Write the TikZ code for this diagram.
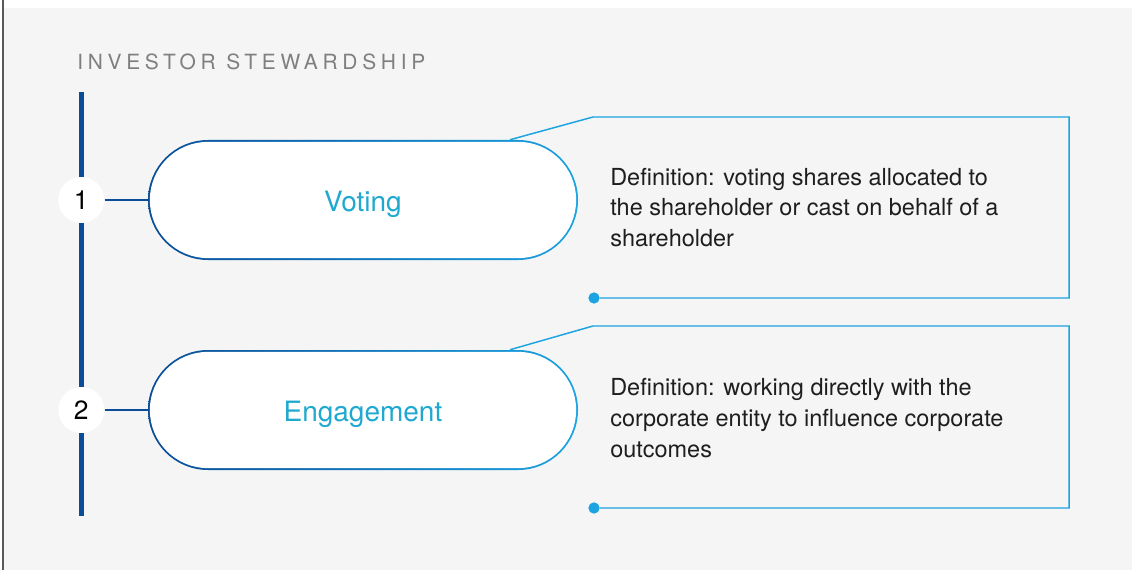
\documentclass[tikz,border=0pt]{standalone}
\usepackage{fontspec}
\setmainfont{TeX Gyre Heros}
\usetikzlibrary{shapes.misc}
\definecolor{bggray}{HTML}{F5F5F5}
\definecolor{navy}{HTML}{0A4C97}
\definecolor{sky}{HTML}{1BA3E2}
\definecolor{pilltext}{HTML}{1FA9D0}
\definecolor{titlegray}{HTML}{7F7F7F}
\definecolor{deftxt}{HTML}{1E1E1E}
\tikzset{
  pill/.style={rounded rectangle, minimum width=322.5pt, minimum height=90pt, inner sep=0pt,
    text height=17.5pt, text depth=0pt,
    left color=navy, right color=sky, text=pilltext, font=\fontsize{21pt}{25pt}\selectfont,
    path picture={\fill[white, rounded corners=43.5pt]
      ([shift={(1.4pt,-1.4pt)}]path picture bounding box.north west) rectangle
      ([shift={(-1.4pt,1.4pt)}]path picture bounding box.south east);}},
  num/.style={circle, fill=white, minimum size=34.5pt, inner sep=0pt, font=\fontsize{19.8pt}{22pt}\selectfont},
  dot/.style={circle, fill=sky, minimum size=8.5pt, inner sep=0pt},
  callout/.style={sky, line width=1.1pt},
  deftext/.style={anchor=north west, align=left, inner sep=0pt, text=deftxt, font=\fontsize{17.6pt}{22.9pt}\selectfont}
}
\begin{document}
\begin{tikzpicture}[x=0.75pt, y=-0.75pt]
    \useasboundingbox (0,0) rectangle (1137,570);
    \fill[bggray] (4,8) rectangle (1132,570);
    \draw[black!65, line width=1.5pt] (3,0) -- (3,570);
    \node[anchor=base west, inner sep=0pt, text=titlegray, font=\fontsize{15.7pt}{18pt}\selectfont] (title) at (77,70) {\addfontfeature{LetterSpace=22.5}INVESTOR STEWARDSHIP};
    % timeline bar
    \coordinate (bartop) at (81.3,92);
    \coordinate (barbot) at (81.3,516);
    \draw[navy, line width=4pt] (bartop) -- (barbot);
    \node[num] (n1) at (81.3,200) {1};
    \node[num] (n2) at (81.3,410) {2};
    \node[pill] (vote) at (363,200) {Voting};
    \node[pill] (engage) at (363,410) {Engagement};
    \draw[navy, line width=1.1pt] (n1) -- (vote);
    \draw[navy, line width=1.1pt] (n2) -- (engage);
    % callouts
    \node[dot] (d1) at (594,298) {};
    \node[dot] (d2) at (594,508) {};
    \draw[callout] ([xshift=110.25pt]vote.north) -- (593,117) -- (1069,117) |- (d1);
    \draw[callout] ([xshift=110.25pt]engage.north) -- (593,326) -- (1069,326) |- (d2);
    \node[deftext] (def1) at (610,168) {Definition: voting shares allocated to\\the shareholder or cast on behalf of a\\shareholder};
    \node[deftext] (def2) at (610,378.5) {Definition: working directly with the\\corporate entity to influence corporate\\outcomes};
\end{tikzpicture}
\end{document}
